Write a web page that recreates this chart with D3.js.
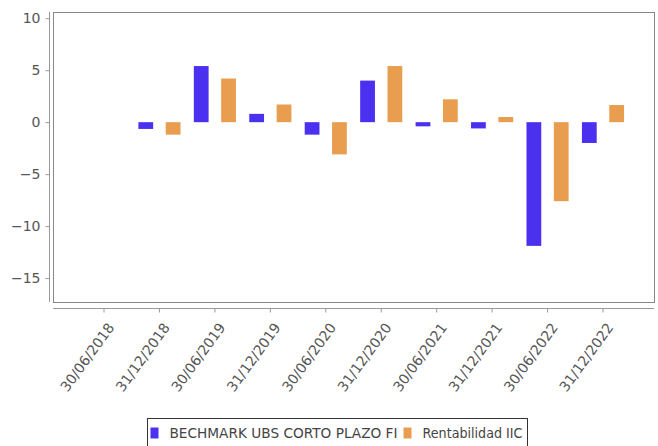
<!DOCTYPE html>
<html lang="en">
<head>
    <meta charset="UTF-8">
    <title>Rentabilidad semestral</title>
    <script src="https://cdnjs.cloudflare.com/ajax/libs/d3/7.8.5/d3.min.js"></script>
    <style>
        body { margin: 0; background: #fff; font-family: 'DejaVu Sans', sans-serif; }
        svg { display: block; }
        .frame { fill: none; stroke: #888; stroke-width: 1px; }
        .axis path, .axis line { stroke: #999; }
        .axis text { fill: #555; font-size: 14px; font-family: 'DejaVu Sans', sans-serif; }
        .legend-box { fill: #fff; stroke: #333; stroke-width: 1px; }
        .legend-text { fill: #444; font-size: 14px; }
    </style>
</head>
<body>
<svg id="chart"></svg>
<script>
    // data
    const periods = ["30/06/2018", "31/12/2018", "30/06/2019", "31/12/2019", "30/06/2020",
                     "31/12/2020", "30/06/2021", "31/12/2021", "30/06/2022", "31/12/2022"];
    const seriesNames = ["BECHMARK UBS CORTO PLAZO FI", "Rentabilidad IIC"];
    const benchmark = [null, -0.65, 5.4, 0.8, -1.2, 4.0, -0.4, -0.6, -11.9, -2.0];
    const fund      = [null, -1.2, 4.2, 1.7, -3.1, 5.4, 2.2, 0.5, -7.6, 1.65];
    const yTicks = [10, 5, 0, -5, -10, -15];
    const colors = ["#4b30f0", "#e99e4f"];

    const width = 658, height = 446;
    const plot = { left: 53, right: 654, top: 12, bottom: 302 };

    const svg = d3.select("#chart").attr("width", width).attr("height", height);

    const x = d3.scaleBand()
        .domain(periods)
        .range([plot.left, plot.right])
        .paddingInner(0.24)
        .paddingOuter(0.54);

    const xSub = d3.scaleBand()
        .domain(seriesNames)
        .range([0, x.bandwidth()])
        .paddingInner(0.46);

    const y = d3.scaleLinear()
        .domain([-17.3, 10.6])
        .range([plot.bottom, plot.top]);

    // plot frame
    svg.append("rect")
        .attr("class", "frame")
        .attr("x", plot.left + 0.5)
        .attr("y", plot.top + 0.5)
        .attr("width", plot.right - plot.left)
        .attr("height", plot.bottom - plot.top);

    // bars
    const rows = periods.map((p, i) => ({ period: p, values: [benchmark[i], fund[i]] }));
    const groups = svg.append("g").selectAll("g")
        .data(rows)
        .join("g")
        .attr("transform", d => `translate(${x(d.period)},0)`);

    groups.selectAll("rect")
        .data(d => d.values.map((v, j) => ({ name: seriesNames[j], value: v, j: j })).filter(d => d.value !== null))
        .join("rect")
        .attr("x", d => xSub(d.name))
        .attr("width", xSub.bandwidth())
        .attr("y", d => y(Math.max(0, d.value)))
        .attr("height", d => Math.abs(y(d.value) - y(0)))
        .attr("fill", d => colors[d.j]);

    // y axis, offset from the frame
    const yAxis = svg.append("g")
        .attr("class", "axis")
        .attr("transform", `translate(${plot.left - 3.5},0)`)
        .call(d3.axisLeft(y).tickValues(yTicks).tickSize(4).tickSizeOuter(0).tickPadding(5));
    yAxis.select(".domain").attr("d", `M0,${plot.top}V${plot.bottom}`);

    // x axis, offset below the frame
    const xAxis = svg.append("g")
        .attr("class", "axis")
        .attr("transform", `translate(0,${plot.bottom + 6.5})`)
        .call(d3.axisBottom(x).tickSize(4).tickSizeOuter(0));
    xAxis.select(".domain").attr("d", `M${plot.left},0H${plot.right}`);
    xAxis.selectAll("text")
        .attr("text-anchor", "end")
        .attr("x", 0).attr("y", 0).attr("dy", 0)
        .attr("transform", "translate(11,19) rotate(-54)");

    // legend
    const legend = svg.append("g").attr("transform", "translate(147.5,418.5)");
    legend.append("rect").attr("class", "legend-box")
        .attr("width", 380).attr("height", 30);
    const items = [
        { name: seriesNames[0], x: 3, len: 228 },
        { name: seriesNames[1], x: 256, len: 100 }
    ];
    items.forEach((it, i) => {
        legend.append("rect")
            .attr("x", it.x).attr("y", 9)
            .attr("width", 8).attr("height", 11)
            .attr("fill", colors[i]);
        legend.append("text")
            .attr("class", "legend-text")
            .attr("x", it.x + 19).attr("y", 19.5)
            .attr("textLength", it.len)
            .attr("lengthAdjust", "spacingAndGlyphs")
            .text(it.name);
    });
</script>
</body>
</html>
